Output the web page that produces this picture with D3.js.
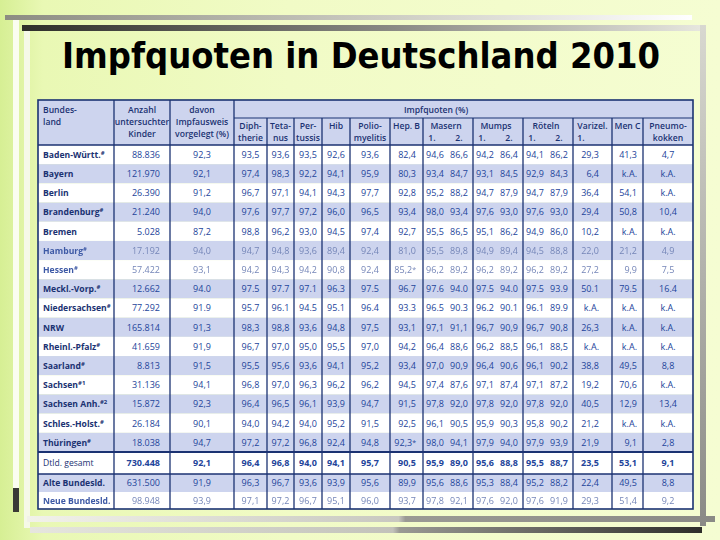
<!DOCTYPE html>
<html>
<head>
<meta charset="utf-8">
<script src="https://cdn.jsdelivr.net/npm/d3@7"></script>
<style>
  body { margin: 0; background: #fff; }
  svg { display: block; }
</style>
</head>
<body>
<svg id="chart"></svg>
<script>
// Impfquoten 2010
const laender = ["Baden-Württ.", "Bayern", "Berlin", "Brandenburg", "Bremen", "Hamburg", "Hessen",
  "Meckl.-Vorp.", "Niedersachsen", "NRW", "Rheinl.-Pfalz", "Saarland", "Sachsen", "Sachsen Anh.",
  "Schles.-Holst.", "Thüringen", "Dtld. gesamt", "Alte Bundesld.", "Neue Bundesld."]
const fussnoten = ["#", "", "", "#", "", "#", "#", "#", "#", "", "#", "#", "#1", "#2", "#", "#", "", "", ""]

const anzahl = ["88.836","121.970","26.390","21.240","5.028","17.192","57.422","12.662","77.292","165.814",
  "41.659","8.813","31.136","15.872","26.184","18.038","730.448","631.500","98.948"]
const impfausweis = ["92,3","92,1","91,2","94,0","87,2","94,0","93,1","94.0","91.9","91,3","91,9","91,5",
  "94,1","92,3","90,1","94,7","92,1","91,9","93,9"]
const diphtherie = ["93,5","97,4","96,7","97,6","98,8","94,7","94,2","97.5","95.7","98,3","96,7","95,5",
  "96,8","96,4","94,0","97,2","96,4","96,3","97,1"]
const tetanus = ["93,6","98,3","97,1","97,7","96,2","94,8","94,3","97.7","96.1","98,8","97,0","95,6",
  "97,0","96,5","94,2","97,2","96,8","96,7","97,2"]
const pertussis = ["93,5","92,2","94,1","97,2","93,0","93,6","94,2","97.1","94.5","93,6","95,0","93,6",
  "96,3","96,1","94,0","96,8","94,0","93,6","96,7"]
const hib = ["92,6","94,1","94,3","96,0","94,5","89,4","90,8","96.3","95.1","94,8","95,5","94,1",
  "96,2","93,9","95,2","92,4","94,1","93,9","95,1"]
const polio = ["93,6","95,9","97,7","96,5","97,4","92,4","92,4","97.5","96.4","97,5","97,0","95,2",
  "96,2","94,7","91,5","94,8","95,7","95,6","96,0"]
const hepB = ["82,4","80,3","92,8","93,4","92,7","81,0","85,2*","96.7","93.3","93,1","94,2","93,4",
  "94,5","91,5","92,5","92,3*","90,5","89,9","93,7"]
const masern1 = ["94,6","93,4","95,2","98,0","95,5","95,5","96,2","97.6","96.5","97,1","96,4","97,0",
  "97,4","97,8","96,1","98,0","95,9","95,6","97,8"]
const masern2 = ["86,6","84,7","88,2","93,4","86,5","89,8","89,2","94.0","90.3","91,1","88,6","90,9",
  "87,6","92,0","90,5","94,1","89,0","88,6","92,1"]
const mumps1 = ["94,2","93,1","94,7","97,6","95,1","94,9","96,2","97.5","96.2","96,7","96,2","96,4",
  "97,1","97,8","95,9","97,9","95,6","95,3","97,6"]
const mumps2 = ["86,4","84,5","87,9","93,0","86,2","89,4","89,2","94.0","90.1","90,9","88,5","90,6",
  "87,4","92,0","90,3","94,0","88,8","88,4","92,0"]
const roeteln1 = ["94,1","92,9","94,7","97,6","94,9","94,5","96,2","97.5","96.1","96,7","96,1","96,1",
  "97,1","97,8","95,8","97,9","95,5","95,2","97,6"]
const roeteln2 = ["86,2","84,3","87,9","93,0","86,0","88,8","89,2","93.9","89.9","90,8","88,5","90,2",
  "87,2","92,0","90,2","93,9","88,7","88,2","91,9"]
const varizellen = ["29,3","6,4","36,4","29,4","10,2","22,0","27,2","50.1","k.A.","26,3","k.A.","38,8",
  "19,2","40,5","21,2","21,9","23,5","22,4","29,3"]
const menC = ["41,3","k.A.","54,1","50,8","k.A.","21,2","9,9","79.5","k.A.","k.A.","k.A.","49,5",
  "70,6","12,9","k.A.","9,1","53,1","49,5","51,4"]
const pneumo = ["4,7","k.A.","k.A.","10,4","k.A.","4,9","7,5","16.4","k.A.","k.A.","k.A.","8,8",
  "k.A.","13,4","k.A.","2,8","9,1","8,8","9,2"]

const W = 720, H = 540
const blue = "#23449a", navy = "#1b3272", shade = "#cdd4ee"
const font = "'Open Sans', 'Noto Sans', sans-serif"

const svg = d3.select("#chart").attr("width", W).attr("height", H)
const defs = svg.append("defs")

function grad(id, stops, x2 = "100%", y2 = "0%") {
  let g = defs.append("linearGradient").attr("id", id)
    .attr("x1", "0%").attr("y1", "0%").attr("x2", x2).attr("y2", y2)
  stops.forEach(s => g.append("stop").attr("offset", s[0]).attr("stop-color", s[1]))
}
grad("bg", [["0%", "#d6ef94"], ["6%", "#e9f8b4"], ["40%", "#f1fbc6"], ["100%", "#f5fdd2"]])
grad("barTop", [["0%", "#8c8c82"], ["60%", "#d2d2c8"], ["100%", "#ffffff"]])
grad("barDark", [["0%", "#2e2e2a"], ["55%", "#8a8a84"], ["100%", "#e6e6de"]])
grad("barRight", [["0%", "#d8d8d0"], ["100%", "#8a8a86"]], "0%", "100%")
grad("barBot1", [["0%", "#f2f2ea"], ["54%", "#c8c8c0"], ["55%", "#9a9a94"], ["100%", "#8a8a86"]])
grad("barBot2", [["0%", "#e6e6de"], ["54%", "#c2c2ba"], ["55%", "#9a9a94"], ["100%", "#2e2e2a"]])
defs.append("filter").attr("id", "soft").append("feGaussianBlur").attr("stdDeviation", 0.35)

// slide background + frame bars
svg.append("rect").attr("width", W).attr("height", H).attr("fill", "url(#bg)")
svg.append("rect").attr("x", 13).attr("y", 20).attr("width", 6).attr("height", 468).attr("fill", "#fbfdf0")
svg.append("rect").attr("x", 13).attr("y", 488).attr("width", 6).attr("height", 24).attr("fill", "#3a3a36")
svg.append("rect").attr("x", 24).attr("y", 31).attr("width", 6).attr("height", 497).attr("fill", "#f6f9e8")
svg.append("rect").attr("x", 5).attr("y", 15).attr("width", 687).attr("height", 5).attr("fill", "url(#barTop)")
svg.append("rect").attr("x", 22).attr("y", 25).attr("width", 678).attr("height", 6).attr("fill", "url(#barDark)")
svg.append("rect").attr("x", 700).attr("y", 25).attr("width", 6).attr("height", 501).attr("fill", "url(#barRight)")
svg.append("rect").attr("x", 27).attr("y", 516).attr("width", 688).attr("height", 6).attr("fill", "url(#barBot1)")
svg.append("rect").attr("x", 30).attr("y", 527).attr("width", 672).attr("height", 6).attr("fill", "url(#barBot2)")

svg.append("text")
  .attr("x", 361).attr("y", 68)
  .attr("text-anchor", "middle")
  .attr("font-family", "'DejaVu Sans', sans-serif")
  .attr("font-weight", "bold")
  .attr("font-size", 35)
  .attr("textLength", 598).attr("lengthAdjust", "spacingAndGlyphs")
  .attr("fill", "#000")
  .text("Impfquoten in Deutschland 2010")

// column layout
const colKeys = ["land","anzahl","ausweis","diph","tet","pert","hib","polio","hepb","masern","mumps","roeteln","vari","menc","pneumo"]
const colW = [76, 56, 64, 33, 27, 28, 28, 40, 33, 50, 50, 50, 39, 31, 50]
const edges = [38, ...d3.cumsum(colW).map(v => 38 + v)]
const x0 = d3.scaleOrdinal().domain(colKeys).range(edges.slice(0, -1))
const x1 = d3.scaleOrdinal().domain(colKeys).range(edges.slice(1))
const tLeft = edges[0], tRight = edges[edges.length - 1]

const tTop = 100, subTop = 118, headBot = 145, sepTotal = 452, sepAlt = 474, tBottom = 509
const nStates = 16
const yRow = d3.scaleBand().domain(d3.range(nStates)).range([headBot, sepTotal])
const yTot = d3.scaleOrdinal().domain([16, 17, 18]).range([[sepTotal, sepAlt], [sepAlt, 492], [492, tBottom]])
const rowSpan = i => i < nStates ? [yRow(i), yRow(i) + yRow.bandwidth()] : yTot(i)

const table = svg.append("g")

// header + row shading
table.append("rect").attr("x", tLeft).attr("y", tTop).attr("width", tRight - tLeft)
  .attr("height", headBot - tTop).attr("fill", shade)
const rows = d3.range(laender.length)
table.selectAll("rect.row").data(rows).join("rect")
  .attr("class", "row")
  .attr("x", tLeft).attr("width", tRight - tLeft)
  .attr("y", i => rowSpan(i)[0]).attr("height", i => rowSpan(i)[1] - rowSpan(i)[0])
  .attr("fill", i => i % 2 ? shade : "#ffffff")

// grid lines
const fullCols = ["anzahl", "ausweis", "diph"]
const lines = table.append("g").attr("stroke", navy).attr("fill", "none")
colKeys.slice(1).forEach(k => {
  lines.append("line").attr("x1", x0(k)).attr("x2", x0(k))
    .attr("y1", fullCols.includes(k) ? tTop : subTop).attr("y2", tBottom).attr("stroke-width", 1.3)
})
lines.append("line").attr("x1", x0("diph")).attr("x2", tRight).attr("y1", subTop).attr("y2", subTop).attr("stroke-width", 1.2)
lines.append("line").attr("x1", tLeft).attr("x2", tRight).attr("y1", headBot).attr("y2", headBot).attr("stroke-width", 1.4)
lines.append("line").attr("x1", tLeft).attr("x2", tRight).attr("y1", sepTotal).attr("y2", sepTotal).attr("stroke-width", 2.2)
lines.append("line").attr("x1", tLeft).attr("x2", tRight).attr("y1", sepAlt).attr("y2", sepAlt).attr("stroke-width", 1.4)
lines.append("rect").attr("x", tLeft).attr("y", tTop).attr("width", tRight - tLeft).attr("height", tBottom - tTop).attr("stroke-width", 1.6)

// header text
const head = table.append("g").attr("font-family", font).attr("font-weight", 600)
  .attr("font-size", 8.6).attr("fill", navy)
function hText(x, y, s, anchor = "middle") {
  head.append("text").attr("x", x).attr("y", y).attr("text-anchor", anchor).text(s)
}
const mid = k => (x0(k) + x1(k)) / 2
hText(x0("land") + 5, 113, "Bundes-", "start")
hText(x0("land") + 5, 125, "land", "start")
;["Anzahl", "untersuchter", "Kinder"].forEach((s, i) => hText(mid("anzahl"), 113 + i * 12, s))
;["davon", "Impfausweis", "vorgelegt (%)"].forEach((s, i) => hText(mid("ausweis"), 113 + i * 12, s))
hText(436, 113, "Impfquoten (%)")
const sub = [["diph", "Diph-", "therie"], ["tet", "Teta-", "nus"], ["pert", "Per-", "tussis"], ["hib", "Hib", ""],
  ["polio", "Polio-", "myelitis"], ["hepb", "Hep. B", ""], ["menc", "Men C", ""], ["pneumo", "Pneumo-", "kokken"]]
sub.forEach(d => { hText(mid(d[0]), 129, d[1]); if (d[2]) hText(mid(d[0]), 141, d[2]) })
;[["masern", "Masern"], ["mumps", "Mumps"], ["roeteln", "Röteln"]].forEach(d => {
  hText(mid(d[0]) - 2, 129, d[1])
  hText(x0(d[0]) + 9, 141, "1.")
  hText(x0(d[0]) + 36, 141, "2.")
})
hText(mid("vari"), 129, "Varizel.")
hText(x0("vari") + 8, 141, "1.")

// body cells
const blurred = [5, 6, 18]
const body = table.append("g").attr("font-family", font).attr("font-size", 9)
const cells = []
rows.forEach(i => {
  const base = [["anzahl", anzahl[i], "end", x1("anzahl") - 10],
    ["ausweis", impfausweis[i], "middle", mid("ausweis")],
    ["diph", diphtherie[i], "middle", mid("diph")],
    ["tet", tetanus[i], "middle", mid("tet")],
    ["pert", pertussis[i], "middle", mid("pert")],
    ["hib", hib[i], "middle", mid("hib")],
    ["polio", polio[i], "middle", mid("polio")],
    ["hepb", hepB[i], "end", x1("hepb") - 7],
    ["m1", masern1[i], "middle", x0("masern") + 12],
    ["m2", masern2[i], "middle", x0("masern") + 36],
    ["u1", mumps1[i], "middle", x0("mumps") + 12],
    ["u2", mumps2[i], "middle", x0("mumps") + 36],
    ["r1", roeteln1[i], "middle", x0("roeteln") + 12],
    ["r2", roeteln2[i], "middle", x0("roeteln") + 36],
    ["vari", varizellen[i], "end", x1("vari") - 13],
    ["menc", menC[i], "end", x1("menc") - 6],
    ["pneumo", pneumo[i], "middle", mid("pneumo")]]
  base.forEach(c => cells.push({ row: i, val: c[1], anchor: c[2], x: c[3] }))
})
const yText = i => (rowSpan(i)[0] + rowSpan(i)[1]) / 2 + 3.3

body.selectAll("text.cell").data(cells).join("text")
  .attr("class", "cell")
  .attr("x", d => d.x).attr("y", d => yText(d.row))
  .attr("text-anchor", d => d.anchor)
  .attr("fill", d => blurred.includes(d.row) ? "#7586b8" : blue)
  .attr("font-weight", d => d.row === 16 ? 700 : 400)
  .attr("filter", d => blurred.includes(d.row) ? "url(#soft)" : null)
  .text(d => d.val.replace("*", ""))
  .filter(d => d.val.endsWith("*"))
  .append("tspan").attr("font-size", 7).attr("dy", -1).text("*")

// row labels
const labels = body.selectAll("text.label").data(rows).join("text")
  .attr("class", "label")
  .attr("x", tLeft + 5).attr("y", i => yText(i))
  .attr("font-weight", i => i === 16 ? 400 : 700)
  .attr("font-size", 8.6)
  .attr("fill", i => blurred.includes(i) ? "#3e5aa6" : navy)
  .attr("filter", i => blurred.includes(i) ? "url(#soft)" : null)
labels.append("tspan").text(i => laender[i])
labels.filter(i => fussnoten[i]).append("tspan")
  .attr("font-size", 6).attr("dy", -3).text(i => fussnoten[i])
</script>
</body>
</html>
